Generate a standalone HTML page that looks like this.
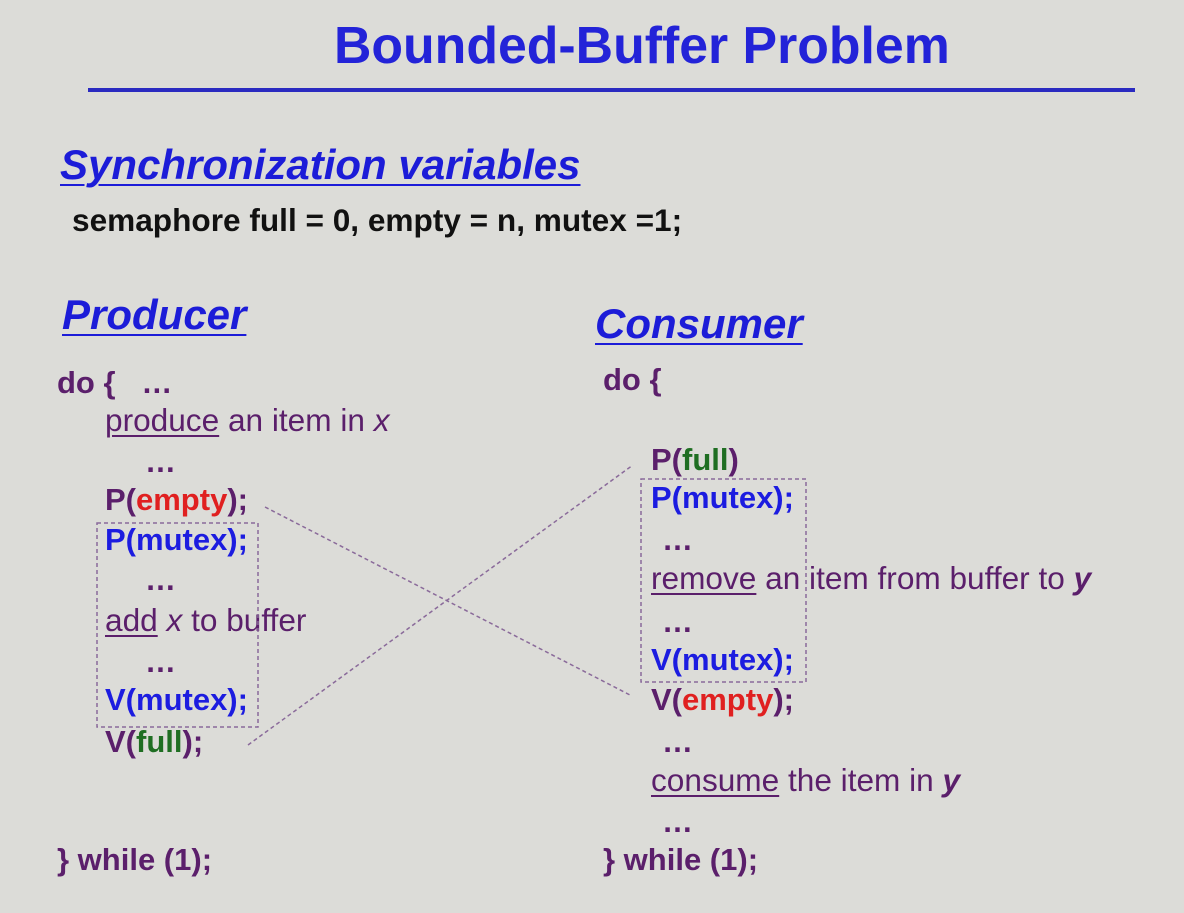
<!DOCTYPE html>
<html><head><style>
body{margin:0;width:1184px;height:913px;background:#dcdcd8;position:relative;overflow:hidden;font-family:"Liberation Sans",Arial,sans-serif;}
.t{position:absolute;white-space:nowrap;line-height:32px;font-size:31px;color:#5b1f6b;}
.n{font-size:31.6px;}
.b{font-weight:bold;}
.bl{color:#1c1ce0;}
.r{color:#e02020;}
.g{color:#1f6e22;}
.u{text-decoration:underline;text-decoration-thickness:2px;text-underline-offset:4px;}
.h{font-style:italic;font-weight:bold;color:#1c1cd8;text-decoration:underline;text-decoration-thickness:2px;text-underline-offset:5px;}
</style></head><body>
<div class="t b" style="left:334px;top:19px;font-size:51.8px;line-height:52px;color:#2323d8;">Bounded-Buffer Problem</div>
<div style="position:absolute;left:88px;top:88px;width:1047px;height:4px;background:#2a2ac0;"></div>
<div class="t h" style="left:60px;top:145px;font-size:42px;line-height:40px;">Synchronization variables</div>
<div class="t b" style="left:72px;top:204px;color:#111;font-size:31.6px;">semaphore full = 0, empty = n, mutex =1;</div>
<div class="t h" style="left:62px;top:295px;font-size:42px;line-height:40px;">Producer</div>
<div class="t h" style="left:595px;top:304px;font-size:42px;line-height:40px;">Consumer</div>

<div class="t b" style="left:57px;top:367px;">do { &nbsp;&nbsp;…</div>
<div class="t n" style="left:105px;top:404px;"><span class="u">produce</span> an item in <i>x</i></div>
<div class="t b" style="left:145px;top:446px;">…</div>
<div class="t b" style="left:105px;top:484px;">P(<span class="r">empty</span>);</div>
<div class="t b bl" style="left:105px;top:524px;">P(mutex);</div>
<div class="t b" style="left:145px;top:564px;">…</div>
<div class="t n" style="left:105px;top:604px;"><span class="u">add</span> <i>x</i> to buffer</div>
<div class="t b" style="left:145px;top:646px;">…</div>
<div class="t b bl" style="left:105px;top:684px;">V(mutex);</div>
<div class="t b" style="left:105px;top:726px;">V(<span class="g">full</span>);</div>
<div class="t b" style="left:57px;top:844px;">} while (1);</div>

<div class="t b" style="left:603px;top:364px;">do {</div>
<div class="t b" style="left:651px;top:444px;">P(<span class="g">full</span>)</div>
<div class="t b bl" style="left:651px;top:482px;">P(mutex);</div>
<div class="t b" style="left:662px;top:524px;">…</div>
<div class="t n" style="left:651px;top:562px;"><span class="u">remove</span> an item from buffer to <b><i>y</i></b></div>
<div class="t b" style="left:662px;top:606px;">…</div>
<div class="t b bl" style="left:651px;top:644px;">V(mutex);</div>
<div class="t b" style="left:651px;top:684px;">V(<span class="r">empty</span>);</div>
<div class="t b" style="left:662px;top:726px;">…</div>
<div class="t n" style="left:651px;top:764px;"><span class="u">consume</span> the item in <b><i>y</i></b></div>
<div class="t b" style="left:662px;top:806px;">…</div>
<div class="t b" style="left:603px;top:844px;">} while (1);</div>

<svg width="1184" height="913" style="position:absolute;left:0;top:0;" fill="none">
<g stroke="#8a6a9a" stroke-width="1.5" stroke-dasharray="4,3">
<rect x="97" y="523" width="161" height="204"/>
<rect x="641" y="479" width="165" height="203"/>
<line x1="265" y1="507" x2="630" y2="695"/>
<line x1="248" y1="745" x2="633" y2="465"/>
</g>
</svg>
</body></html>
